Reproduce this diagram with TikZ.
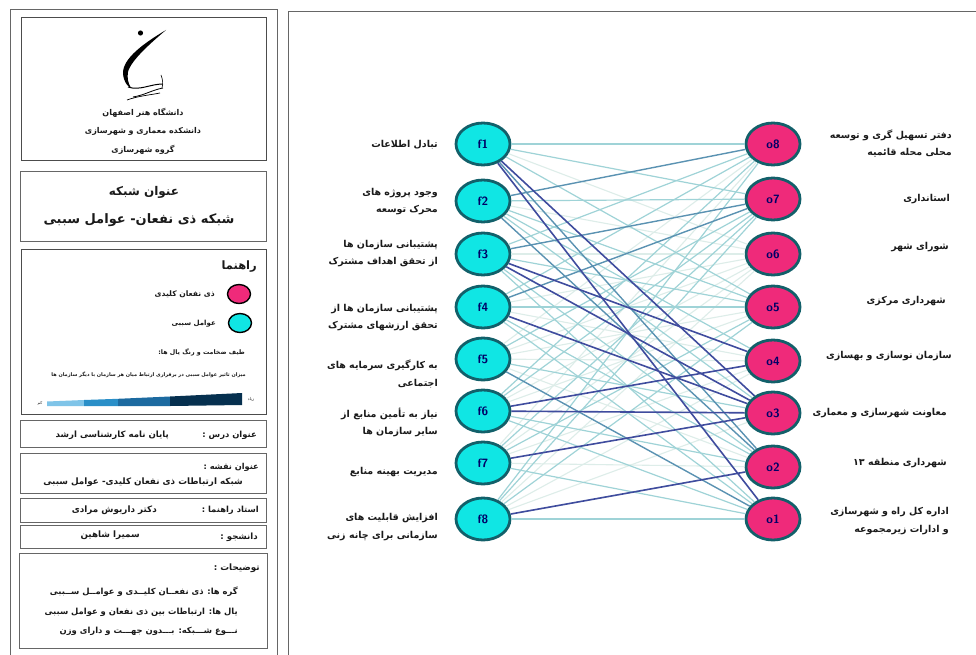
\documentclass[tikz,border=0pt]{standalone}
\usepackage{fontspec}
\usetikzlibrary{shapes.geometric}
\newfontfamily\arabicfont[Script=Arabic]{DejaVu Sans}
\TeXXeTstate=1
\newcommand{\fa}[1]{\beginR #1\endR}
\newcommand{\fs}[1]{\fontsize{#1}{17.5}\selectfont}
\definecolor{cyanfill}{HTML}{10E6E4}
\definecolor{pinkfill}{HTML}{EF2A7A}
\definecolor{ringcol}{HTML}{12606A}
\definecolor{inkcol}{HTML}{1A1A1A}
\definecolor{edgedark}{HTML}{3F4C9E}
\definecolor{edgemid}{HTML}{5A92B2}
\definecolor{edgelight}{HTML}{9FD3D7}
\definecolor{edgepale}{HTML}{DDEDE9}
\definecolor{barone}{HTML}{7FC4E8}
\definecolor{bartwo}{HTML}{2A8FC8}
\definecolor{barthree}{HTML}{1C6AA0}
\definecolor{barfour}{HTML}{06304F}
\tikzset{
  panel/.style={draw=black!70, line width=.9pt},
  fnode/.style={ellipse, draw=ringcol, line width=2.8pt, fill=cyanfill, minimum width=54pt, minimum height=42pt, inner sep=0pt, text=blue!40!black, font=\sffamily\bfseries\fontsize{12}{12}\selectfont},
  onode/.style={fnode, fill=pinkfill},
  keyf/.style={ellipse, draw=black, line width=1.4pt, fill=cyanfill, minimum width=23pt, minimum height=19pt, inner sep=0pt},
  keyo/.style={keyf, fill=pinkfill},
  txt/.style={inner sep=0pt, text=inkcol, align=right, font=\arabicfont\bfseries\fs{9.5}},
  pale/.style={edgepale, line width=1.1pt},
  lightedge/.style={edgelight, line width=1.2pt},
  midedge/.style={edgemid, line width=1.4pt},
  darkedge/.style={edgedark, line width=1.6pt},
}
\begin{document}
\begin{tikzpicture}[x=1pt, y=-1pt]
    \useasboundingbox (0,0) rectangle (976,655);
    \fill[white] (0,0) rectangle (976,655);
    \draw [panel, black!60] (10,660) -- (10,9) -- (277,9) -- (277,660);
    \draw [panel, black!60] (288,660) -- (288,11) -- (980,11);
    \draw [panel] (21,17) rectangle (266,160);
    \draw [panel, black!60] (20,171) rectangle (266,241);
    \draw [panel] (21,249) rectangle (266,414);
    \draw [panel, black!60] (20,420) rectangle (266,447);
    \draw [panel, black!60] (20,453) rectangle (266,493);
    \draw [panel, black!60] (20,498) rectangle (266,522);
    \draw [panel, black!60] (20,525) rectangle (266,548);
    \draw [panel, black!60] (19,553) rectangle (267,648);
    % logo
    \fill (140.5,33) circle (2.6);
    \fill (166,30) .. controls (146,42) and (122,58) .. (123,74) .. controls (124,82) and (127,86) .. (131,88) .. controls (128,83) and (127,78) .. (128,72) .. controls (131,60) and (152,42) .. (166,30);
    \draw [line width=1pt] (128,87) .. controls (140,91) and (150,84) .. (163,84);
    \draw [line width=.8pt] (133,97) .. controls (145,95) and (152,90) .. (163,88);
    \draw [line width=.7pt] (127,100) .. controls (138,96) and (150,95) .. (160,93);
    \draw [line width=.6pt] (161,75) .. controls (163,80) and (163,84) .. (162,88);
    \node [txt, font=\arabicfont\bfseries\fs{8}] (uni1) at (143,113) {\fa{دانشگاه هنر اصفهان}};
    \node [txt, font=\arabicfont\bfseries\fs{8}] (uni2) at (143,131) {\fa{دانشکده معماری و شهرسازی}};
    \node [txt, font=\arabicfont\bfseries\fs{8}] (uni3) at (143,150) {\fa{گروه شهرسازی}};
    % title
    \node [txt, font=\arabicfont\bfseries\fs{12}] (title1) at (144,192) {\fa{عنوان شبکه}};
    \node [txt, font=\arabicfont\bfseries\fs{13}] (title2) at (139,220) {\fa{شبکه ذی نفعان- عوامل سببی}};
    % legend
    \node [txt, anchor=east, font=\arabicfont\bfseries\fs{11.5}] (keyhead) at (257,267) {\fa{راهنما}};
    \node [keyo] (keyone) at (239,294) {};
    \node [keyf] (keytwo) at (240,323) {};
    \node [txt, anchor=east, font=\arabicfont\bfseries\fs{7.6}] (keyonetxt) at (215,294) {\fa{ذی نفعان کلیدی}};
    \node [txt, anchor=east, font=\arabicfont\bfseries\fs{7}] (keytwotxt) at (216,324) {\fa{عوامل سببی}};
    \node [txt, anchor=east, font=\arabicfont\bfseries\fs{6.3}] (rangetxt) at (245,352) {\fa{طیف ضخامت و رنگ یال ها:}};
    \node [txt, anchor=east, font=\arabicfont\bfseries\fs{5}] (effecttxt) at (246,375) {\fa{میزان تاثیر عوامل سببی در برقراری ارتباط میان هر سازمان با دیگر سازمان ها}};
    \fill [barone] (47,401.5) -- (84,400) -- (84,406) -- (47,406) -- cycle;
    \fill [bartwo] (84,400) -- (118,398.8) -- (118,406) -- (84,406) -- cycle;
    \fill [barthree] (118,398.8) -- (170,396.5) -- (170,406) -- (118,406) -- cycle;
    \fill [barfour] (170,396.5) -- (242,393) -- (242,405) -- (170,406) -- cycle;
    \node [txt, font=\arabicfont\fs{4}] (lowtxt) at (40,403) {\fa{کم}};
    \node [txt, font=\arabicfont\fs{4}] (hightxt) at (251,399) {\fa{زیاد}};
    % info boxes
    \node [txt, anchor=east, font=\arabicfont\bfseries\fs{8.4}] (courselbl) at (257,435) {\fa{عنوان درس :}};
    \node [txt, anchor=east, font=\arabicfont\bfseries\fs{8.6}] (coursetxt) at (169,435) {\fa{پایان نامه کارشناسی ارشد}};
    \node [txt, anchor=east, font=\arabicfont\bfseries\fs{8.2}] (maplbl) at (259,467) {\fa{عنوان نقشه :}};
    \node [txt, anchor=east, font=\arabicfont\bfseries\fs{8.8}] (maptxt) at (243,482) {\fa{شبکه ارتباطات ذی نفعان کلیدی- عوامل سببی}};
    \node [txt, anchor=east, font=\arabicfont\bfseries\fs{8.4}] (advlbl) at (259,510) {\fa{استاد راهنما :}};
    \node [txt, anchor=east, font=\arabicfont\bfseries\fs{8.8}] (advtxt) at (157,510) {\fa{دکتر داریوش مرادی}};
    \node [txt, anchor=east, font=\arabicfont\bfseries\fs{8.6}] (stulbl) at (258,537) {\fa{دانشجو :}};
    \node [txt, anchor=east, font=\arabicfont\bfseries\fs{8.8}] (stutxt) at (140,535) {\fa{سمیرا شاهین}};
    \node [txt, anchor=east, font=\arabicfont\bfseries\fs{8.8}] (notelbl) at (260,568) {\fa{توضیحات :}};
    \node [txt, anchor=east, font=\arabicfont\bfseries\fs{8.4}] (note1) at (238,592) {\fa{گره ها: ذی نفعــان کلیــدی و عوامــل ســببی}};
    \node [txt, anchor=east, font=\arabicfont\bfseries\fs{8.4}] (note2) at (238,612) {\fa{یال ها: ارتباطات بین ذی نفعان و عوامل سببی}};
    \node [txt, anchor=east, font=\arabicfont\bfseries\fs{8.4}] (note3) at (238,631) {\fa{نـــوع شـــبکه: بـــدون جهـــت و دارای وزن}};
    % network
    \node [fnode] (f1) at (483,144) {f1};
    \node [fnode] (f2) at (483,201) {f2};
    \node [fnode] (f3) at (483,254) {f3};
    \node [fnode] (f4) at (483,307) {f4};
    \node [fnode] (f5) at (483,359) {f5};
    \node [fnode] (f6) at (483,411) {f6};
    \node [fnode] (f7) at (483,463) {f7};
    \node [fnode] (f8) at (483,519) {f8};
    \node [onode] (o8) at (773,144) {o8};
    \node [onode] (o7) at (773,199) {o7};
    \node [onode] (o6) at (773,254) {o6};
    \node [onode] (o5) at (773,307) {o5};
    \node [onode] (o4) at (773,361) {o4};
    \node [onode] (o3) at (773,413) {o3};
    \node [onode] (o2) at (773,467) {o2};
    \node [onode] (o1) at (773,519) {o1};
    \foreach \a/\b in {f1/o6,f2/o6,f3/o6,f4/o6,f5/o6,f5/o5,f5/o8,f6/o6,f6/o5,f7/o8,f7/o6,f7/o4,f7/o2,f8/o6,f8/o3,f8/o2,f5/o2,f4/o4,f5/o4,f8/o4}
        \draw [pale] (\a) -- (\b);
    \foreach \a/\b in {f1/o8,f1/o7,f1/o5,f2/o7,f2/o4,f2/o5,f2/o3,f3/o8,f3/o5,f3/o2,f3/o1,f4/o8,f4/o5,f4/o1,f4/o2,f5/o7,f5/o3,f6/o8,f6/o7,f6/o2,f6/o1,f7/o7,f7/o5,f7/o1,f8/o8,f8/o7,f8/o5,f8/o1}
        \draw [lightedge] (\a) -- (\b);
    \foreach \a/\b in {f2/o8,f3/o7,f4/o7,f5/o1,f2/o2,f1/o2}
        \draw [midedge] (\a) -- (\b);
    \foreach \a/\b in {f1/o1,f1/o3,f3/o4,f3/o3,f4/o3,f6/o4,f6/o3,f7/o3,f8/o2}
        \draw [darkedge] (\a) -- (\b);
    % factor labels
    \node [txt, anchor=east] (ftxt1) at (438,145) {\fa{تبادل اطلاعات}};
    \node [txt, anchor=east] (ftxt2) at (438,201.5) {\fa{وجود پروژه های}\\\fa{محرک توسعه}};
    \node [txt, anchor=east] (ftxt3) at (438,253.5) {\fa{پشتیبانی سازمان ها}\\\fa{از تحقق اهداف مشترک}};
    \node [txt, anchor=east] (ftxt4) at (438,317.5) {\fa{پشتیبانی سازمان ها از}\\\fa{تحقق ارزشهای مشترک}};
    \node [txt, anchor=east] (ftxt5) at (438,374) {\fa{به کارگیری سرمایه های}\\\fa{اجتماعی}};
    \node [txt, anchor=east] (ftxt6) at (438,422.5) {\fa{نیاز به تأمین منابع از}\\\fa{سایر سازمان ها}};
    \node [txt, anchor=east] (ftxt7) at (438,472) {\fa{مدیریت بهینه منابع}};
    \node [txt, anchor=east] (ftxt8) at (438,527) {\fa{افزایش قابلیت های}\\\fa{سازمانی برای چانه زنی}};
    % stakeholder labels
    \node [txt, anchor=east] (otxt8) at (952,143.5) {\fa{دفتر تسهیل گری و توسعه}\\\fa{محلی محله قائمیه}};
    \node [txt, anchor=east] (otxt7) at (950,199) {\fa{استانداری}};
    \node [txt, anchor=east] (otxt6) at (949,247) {\fa{شورای شهر}};
    \node [txt, anchor=east] (otxt5) at (946,301) {\fa{شهرداری مرکزی}};
    \node [txt, anchor=east] (otxt4) at (952,356) {\fa{سازمان نوسازی و بهسازی}};
    \node [txt, anchor=east] (otxt3) at (947,413) {\fa{معاونت شهرسازی و معماری}};
    \node [txt, anchor=east] (otxt2) at (947,463) {\fa{شهرداری منطقه ۱۳}};
    \node [txt, anchor=east] (otxt1) at (949,521) {\fa{اداره کل راه و شهرسازی}\\\fa{و ادارات زیرمجموعه}};
\end{tikzpicture}
\end{document}
